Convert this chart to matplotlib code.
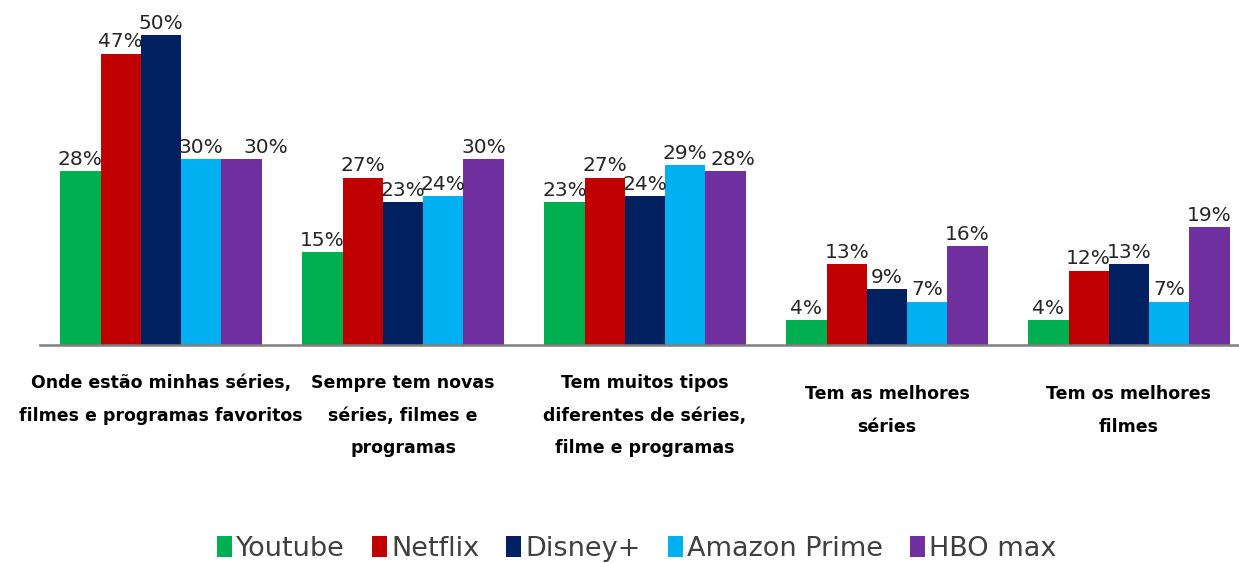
import matplotlib.pyplot as plt
import numpy as np

categories = [
    "Onde estão minhas séries,\nfilmes e programas favoritos",
    "Sempre tem novas\nséries, filmes e\nprogramas",
    "Tem muitos tipos\ndiferentes de séries,\nfilme e programas",
    "Tem as melhores\nséries",
    "Tem os melhores\nfilmes",
]
series_names = ["Youtube", "Netflix", "Disney+", "Amazon Prime", "HBO max"]
youtube = [28, 15, 23, 4, 4]
netflix = [47, 27, 27, 13, 12]
disney = [50, 23, 24, 9, 13]
amazon = [30, 24, 29, 7, 7]
hbo = [30, 30, 28, 16, 19]

colors = ["#00B050", "#C00000", "#002060", "#00B0F0", "#7030A0"]
label_tops = [374, 374, 374, 385, 385]  # pixel y of the top of each category label

plt.rcParams['font.family'] = ['DejaVu Sans']

W, H = 1239, 563
fig = plt.figure(figsize=(W / 100, H / 100), dpi=100)
base_px = 345  # baseline, from the top
ax = fig.add_axes([0, (H - base_px) / H, 1, base_px / H])
ax.set_xlim(-161 / 242, (W - 161) / 242)
ax.set_ylim(0, base_px / 6.2)
ax.axis('off')

x = np.arange(len(categories))
width = 40.3 / 242
values = [youtube, netflix, disney, amazon, hbo]
for i, (name, vals) in enumerate(zip(series_names, values)):
    pos = x + (i - 2) * width
    ax.bar(pos, vals, width, color=colors[i], label=name, edgecolor='none')
    for j, (p, v) in enumerate(zip(pos, vals)):
        # no original, o rótulo do HBO no 1o grupo fica deslocado à direita
        dx = 0.1 if (i == 4 and j == 0) else (0.03 if i == 4 and j == 2 else 0)
        ax.text(p + dx, v + 1.0, f"{v}%", ha='center', va='baseline',
                fontsize=14.5, color='#262626')

ax.plot([-0.5, 4.5], [0, 0], color='#7f7f7f', lw=1.8, clip_on=False)

# etiquetas das categorias
for xi, cat, top in zip(x, categories, label_tops):
    fig.text((161 + 242 * xi) / W, 1 - top / H, cat, ha='center', va='top',
             fontsize=12.5, fontweight='bold', color='#000000', linespacing=2.05)

fig.legend(loc='center', bbox_to_anchor=(0.514, 1 - 549 / H), ncol=5,
           frameon=False, fontsize=19.5, handlelength=0.55, handleheight=0.8,
           handletextpad=0.15, columnspacing=1.0, labelcolor='#404040')

fig.savefig('out.png', dpi=100)
